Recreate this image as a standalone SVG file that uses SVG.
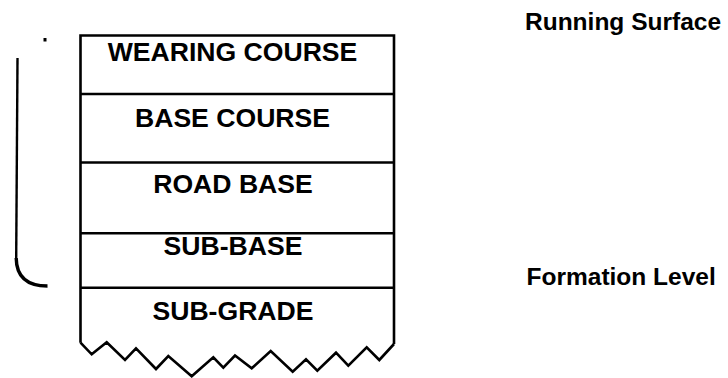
<svg xmlns="http://www.w3.org/2000/svg" width="728" height="378" viewBox="0 0 728 378">
<style>
.ln{fill:none;stroke:#000;stroke-width:2.6;stroke-linejoin:miter}
.lbl{font-family:"Liberation Sans",Arial,sans-serif;font-weight:bold;font-size:26.6px;fill:#000;text-anchor:middle}
.side{font-family:"Liberation Sans",Arial,sans-serif;font-weight:bold;font-size:24.5px;fill:#000}
</style>
<rect width="728" height="378" fill="#fff"/>
<g id="pavement">
<path class="ln" d="M80.5,342.7 V35.5 H394 V344"/>
<path class="ln" d="M80.5,342.7 L91.7,354.3 L106.7,342.3 L125,360 L136,348.3 L156,369 L168.3,356 L191.7,376.3 L213.3,357.3 L223.3,367.7 L235,355.5 L251.7,368.3 L270.7,351 L292.7,371.7 L306,359.3 L317.3,370.7 L336,352.7 L348.3,365.7 L366.7,347.3 L379.3,360 L394,344"/>
</g>
<g id="layer-wearing">
<line class="ln" x1="80.5" y1="94" x2="394" y2="94"/>
<text class="lbl" x="232.5" y="61">WEARING COURSE</text>
</g>
<g id="layer-base-course">
<line class="ln" x1="80.5" y1="162.5" x2="394" y2="162.5"/>
<text class="lbl" x="232.5" y="127.3">BASE COURSE</text>
</g>
<g id="layer-road-base">
<line class="ln" x1="80.5" y1="233.3" x2="394" y2="233.3"/>
<text class="lbl" x="233" y="193.3">ROAD BASE</text>
</g>
<g id="layer-sub-base">
<line class="ln" x1="80.5" y1="287.7" x2="394" y2="287.7"/>
<text class="lbl" x="233" y="255">SUB-BASE</text>
</g>
<g id="layer-sub-grade">
<text class="lbl" x="233" y="320">SUB-GRADE</text>
</g>
<g id="bracket">
<rect x="43.5" y="38" width="3" height="3.5" fill="#000"/>
<path fill="none" stroke="#000" stroke-width="2.4" d="M17.5,58 L16.2,258"/>
<path fill="none" stroke="#000" stroke-width="3.4" d="M16.2,258 Q16.5,286 47.5,286"/>
</g>
<g id="labels">
<text class="side" x="525" y="29.5">Running Surface</text>
<text class="side" x="526.5" y="285">Formation Level</text>
</g>
</svg>
